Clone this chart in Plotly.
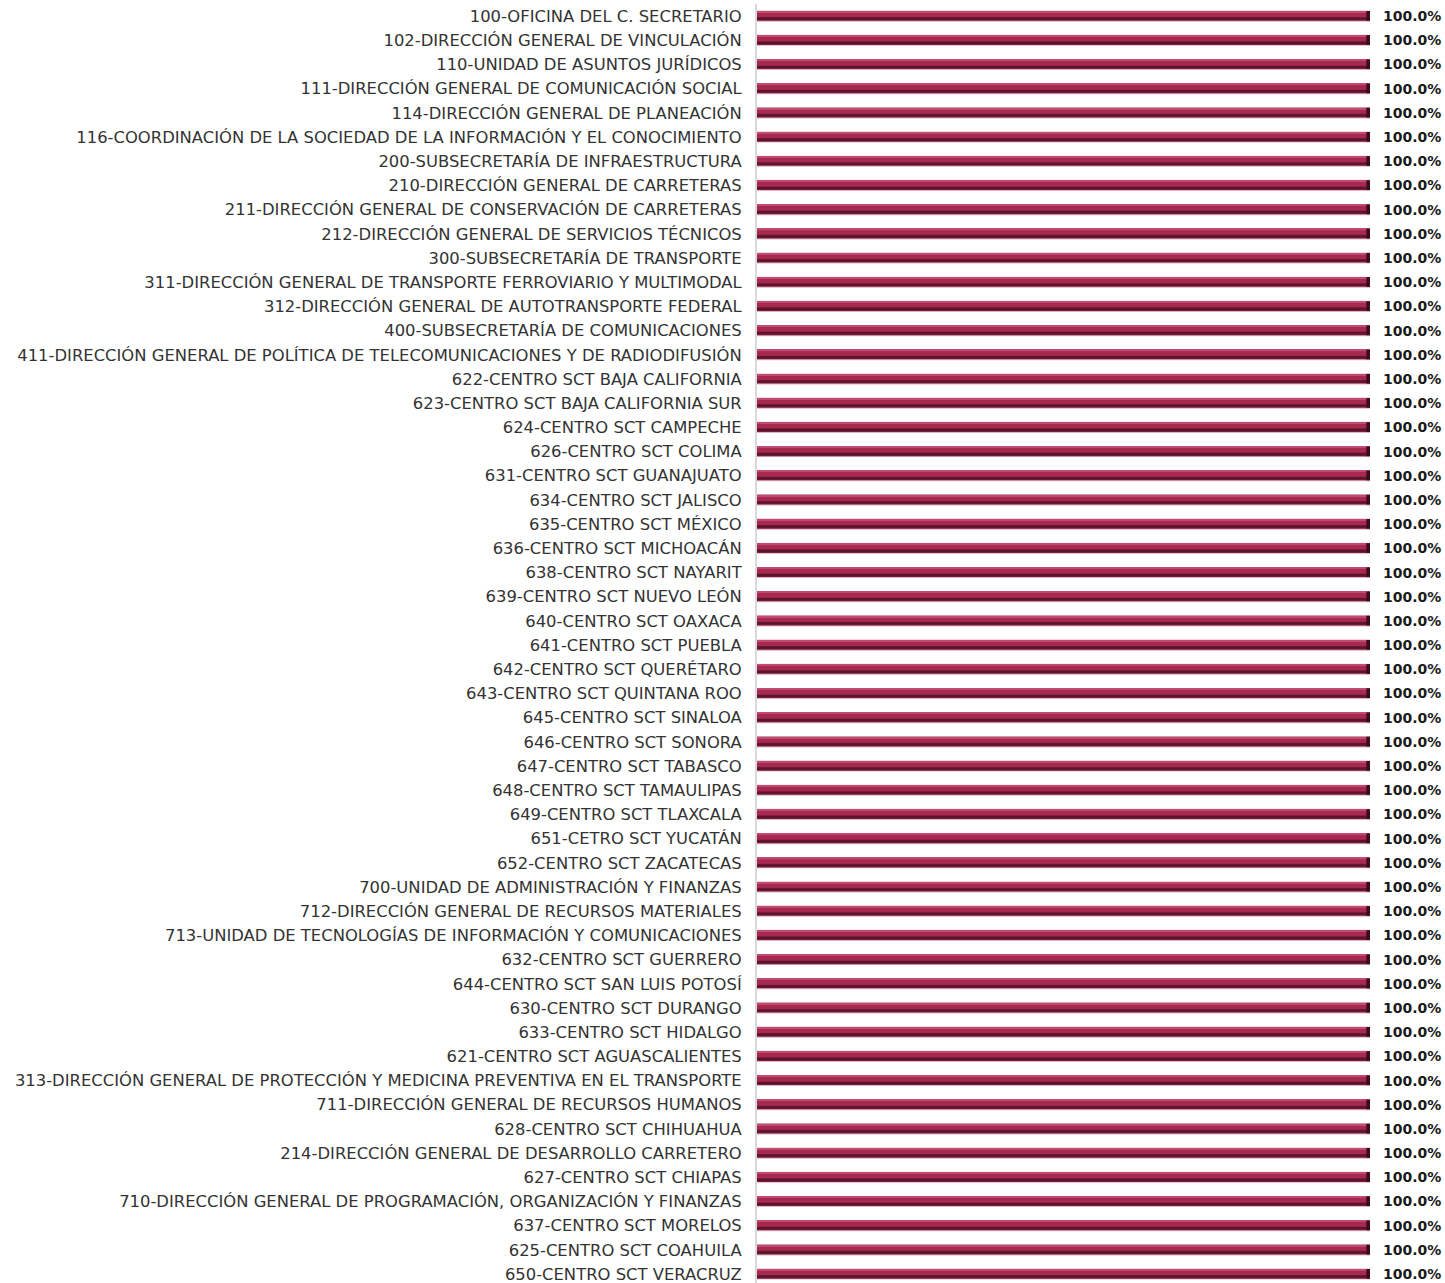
import plotly.graph_objects as go

categories = [
    "100-OFICINA DEL C. SECRETARIO",
    "102-DIRECCIÓN GENERAL DE VINCULACIÓN",
    "110-UNIDAD DE ASUNTOS JURÍDICOS",
    "111-DIRECCIÓN GENERAL DE COMUNICACIÓN SOCIAL",
    "114-DIRECCIÓN GENERAL DE PLANEACIÓN",
    "116-COORDINACIÓN DE LA SOCIEDAD DE LA INFORMACIÓN Y EL CONOCIMIENTO",
    "200-SUBSECRETARÍA DE INFRAESTRUCTURA",
    "210-DIRECCIÓN GENERAL DE CARRETERAS",
    "211-DIRECCIÓN GENERAL DE CONSERVACIÓN DE CARRETERAS",
    "212-DIRECCIÓN GENERAL DE SERVICIOS TÉCNICOS",
    "300-SUBSECRETARÍA DE TRANSPORTE",
    "311-DIRECCIÓN GENERAL DE TRANSPORTE FERROVIARIO Y MULTIMODAL",
    "312-DIRECCIÓN GENERAL DE AUTOTRANSPORTE FEDERAL",
    "400-SUBSECRETARÍA DE COMUNICACIONES",
    "411-DIRECCIÓN GENERAL DE POLÍTICA DE TELECOMUNICACIONES Y DE RADIODIFUSIÓN",
    "622-CENTRO SCT BAJA CALIFORNIA",
    "623-CENTRO SCT BAJA CALIFORNIA SUR",
    "624-CENTRO SCT CAMPECHE",
    "626-CENTRO SCT COLIMA",
    "631-CENTRO SCT GUANAJUATO",
    "634-CENTRO SCT JALISCO",
    "635-CENTRO SCT MÉXICO",
    "636-CENTRO SCT MICHOACÁN",
    "638-CENTRO SCT NAYARIT",
    "639-CENTRO SCT NUEVO LEÓN",
    "640-CENTRO SCT OAXACA",
    "641-CENTRO SCT PUEBLA",
    "642-CENTRO SCT QUERÉTARO",
    "643-CENTRO SCT QUINTANA ROO",
    "645-CENTRO SCT SINALOA",
    "646-CENTRO SCT SONORA",
    "647-CENTRO SCT TABASCO",
    "648-CENTRO SCT TAMAULIPAS",
    "649-CENTRO SCT TLAXCALA",
    "651-CETRO SCT YUCATÁN",
    "652-CENTRO SCT ZACATECAS",
    "700-UNIDAD DE ADMINISTRACIÓN Y FINANZAS",
    "712-DIRECCIÓN GENERAL DE RECURSOS MATERIALES",
    "713-UNIDAD DE TECNOLOGÍAS DE INFORMACIÓN Y COMUNICACIONES",
    "632-CENTRO SCT GUERRERO",
    "644-CENTRO SCT SAN LUIS POTOSÍ",
    "630-CENTRO SCT DURANGO",
    "633-CENTRO SCT HIDALGO",
    "621-CENTRO SCT AGUASCALIENTES",
    "313-DIRECCIÓN GENERAL DE PROTECCIÓN Y MEDICINA PREVENTIVA EN EL TRANSPORTE",
    "711-DIRECCIÓN GENERAL DE RECURSOS HUMANOS",
    "628-CENTRO SCT CHIHUAHUA",
    "214-DIRECCIÓN GENERAL DE DESARROLLO CARRETERO",
    "627-CENTRO SCT CHIAPAS",
    "710-DIRECCIÓN GENERAL DE PROGRAMACIÓN, ORGANIZACIÓN Y FINANZAS",
    "637-CENTRO SCT MORELOS",
    "625-CENTRO SCT COAHUILA",
    "650-CENTRO SCT VERACRUZ",
]
values = [100.0] * len(categories)
value_labels = [f"{v:.1f}%" for v in values]

FONT = "DejaVu Sans"
fig = go.Figure()

# layered bars to mimic the cylindrical 3D look
layers = [
    (0.46, -0.23, "#e3b3c3"),   # light outer rim
    (0.40, -0.21, "#7d1d3d"),   # dark base
    (0.24, -0.20, "#a8294f"),   # main crimson face
    (0.05, -0.20, "#c04a70"),   # top highlight
    (0.09, 0.06, "#5a142c"),    # lower shadow
]
for w, off, col in layers:
    fig.add_trace(go.Bar(
        x=values, y=categories, orientation="h",
        width=w, offset=off, marker=dict(color=col, line=dict(width=0)),
        hoverinfo="skip", showlegend=False,
    ))

# dark end cap at the tip of each bar
cap = 0.6
fig.add_trace(go.Bar(
    x=[cap] * len(values), base=[v - cap for v in values], y=categories,
    orientation="h", width=0.40, offset=-0.21,
    marker=dict(color="#3e0b1e", line=dict(width=0)),
    hoverinfo="skip", showlegend=False,
))

for cat, v, lab in zip(categories, values, value_labels):
    fig.add_annotation(
        x=v, y=cat, xref="x", yref="y", text=f"<b>{lab}</b>",
        showarrow=False, xanchor="left", xshift=11,
        font=dict(family=FONT, size=14, color="#1a1a1a"),
    )

n = len(categories)
fig.update_layout(
    barmode="overlay",
    width=1445, height=1283,
    margin=dict(l=757, r=75, t=4, b=0),
    paper_bgcolor="white", plot_bgcolor="white",
    font=dict(family=FONT, size=16.4, color="#333333"),
)
fig.update_xaxes(range=[0, 100], visible=False, showgrid=False)
fig.update_yaxes(
    type="category", categoryorder="array", categoryarray=categories,
    range=[n - 1 + 0.37, -0.5],
    showgrid=False, showline=True, linecolor="#d9d9d9", linewidth=2,
    ticks="", ticklabelstandoff=10,
    tickfont=dict(family=FONT, size=16.4, color="#333333"),
)

fig.write_html("out.html")
